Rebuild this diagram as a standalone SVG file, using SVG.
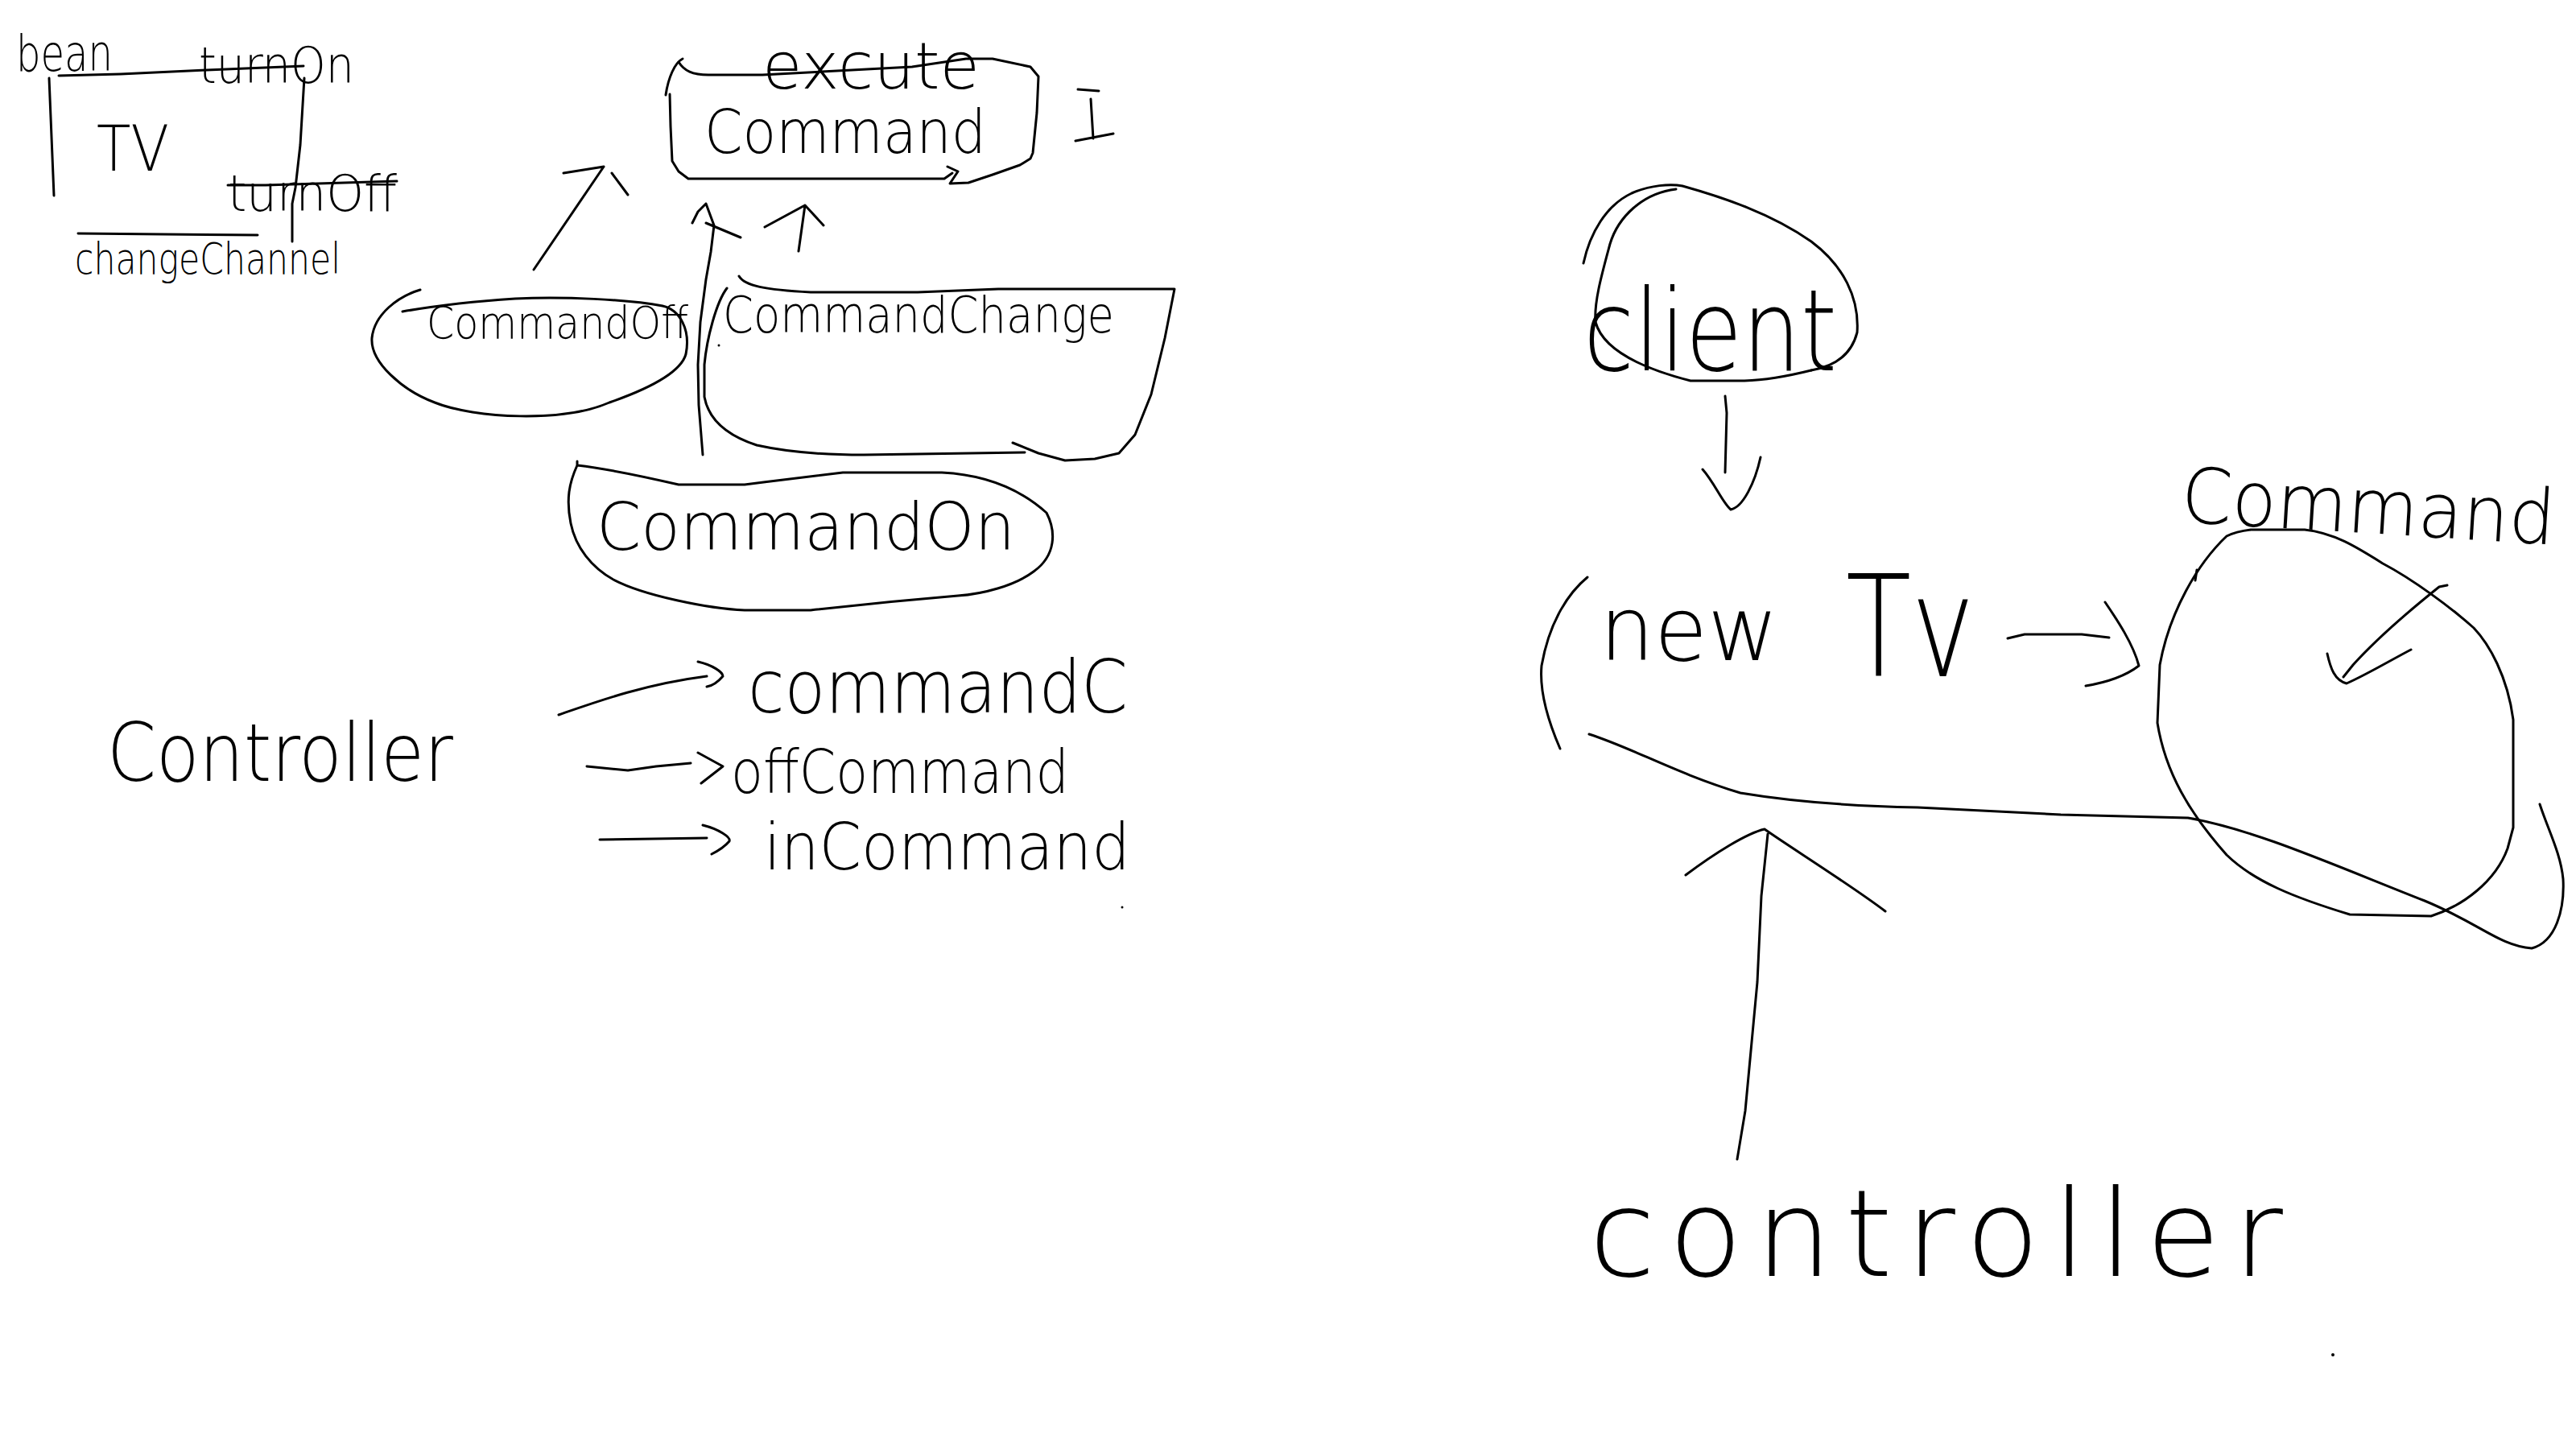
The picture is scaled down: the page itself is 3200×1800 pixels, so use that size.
<svg xmlns="http://www.w3.org/2000/svg" width="3200" height="1800" viewBox="0 0 3200 1800">
<style>
.s{fill:none;stroke:#000;stroke-width:3;stroke-linecap:round;stroke-linejoin:round}
.t{font-family:"DejaVu Sans","Liberation Sans",sans-serif;font-weight:200;fill:#000}
.d{fill:#000}
</style>
<rect width="3200" height="1800" fill="#fff"/>
<g id="tv-class">
<path class="s" d="M73,94 L150,92 L257,87 L377,82"/>
<path class="s" d="M61,97 L67,243"/>
<path class="s" d="M378,97 L373,180 L367,233 L363,253 L363,300"/>
<path class="s" d="M283,230 L330,230 L493,225"/>
<path class="s" d="M97,290 L320,292"/>
<text class="t" x="20" y="88" font-size="62" textLength="120" lengthAdjust="spacingAndGlyphs">bean</text>
<text class="t" x="247" y="103" font-size="62" textLength="193" lengthAdjust="spacingAndGlyphs">turnOn</text>
<text class="t" x="120" y="212" font-size="78" textLength="90" lengthAdjust="spacingAndGlyphs">TV</text>
<text class="t" x="283" y="262" font-size="62" textLength="210" lengthAdjust="spacingAndGlyphs">turnOff</text>
<text class="t" x="93" y="340" font-size="54" textLength="330" lengthAdjust="spacingAndGlyphs">changeChannel</text>
</g>
<g id="command-interface">
<path class="s" d="M848,73 C838,78 830,97 827,118"/>
<path class="s" d="M843,77 C850,88 860,93 880,93 L947,93 L1133,83 L1200,73 L1233,73 L1280,83 L1290,95 L1288,140 L1283,190 L1280,197 L1267,205 L1233,217 L1203,227 L1180,228 L1190,213 L1177,207"/>
<path class="s" d="M1183,215 L1173,222 L855,222 L843,213 L835,200 L833,157 L832,117"/>
<text class="t" x="947" y="110" font-size="80" textLength="270" lengthAdjust="spacingAndGlyphs">excute</text>
<text class="t" x="875" y="190" font-size="74" textLength="350" lengthAdjust="spacingAndGlyphs">Command</text>
<path class="s" d="M1339,111 L1365,113 M1355,123 L1358,172 M1336,175 L1383,166"/>
</g>
<g id="command-off">
<path class="s" d="M522,360 C495,368 465,390 462,420 C460,450 500,485 540,500 C590,520 700,525 757,500 C800,485 845,465 852,440 C858,410 845,385 823,380 C780,372 700,368 640,371 C580,375 540,380 500,387"/>
<text class="t" x="530" y="420" font-size="56" textLength="325" lengthAdjust="spacingAndGlyphs">CommandOff</text>
</g>
<g id="command-change">
<path class="s" d="M918,343 C925,355 950,360 1007,363 L1140,363 L1240,359 L1459,359 L1447,420 L1430,490 L1410,540 L1390,563 L1360,570 L1323,572 L1290,563 L1258,550"/>
<path class="s" d="M903,358 C890,375 878,420 875,453 L875,493 C880,520 900,540 940,553 C980,562 1030,565 1073,565 L1273,562"/>
<text class="t" x="898" y="413" font-size="62" textLength="486" lengthAdjust="spacingAndGlyphs">CommandChange</text>
<circle class="d" cx="893" cy="429" r="1.5"/>
</g>
<g id="command-on">
<path class="s" d="M717,573 L717,578 C760,583 800,592 843,602 L925,602 C980,595 1047,587 1047,587 L1170,587 C1230,590 1270,610 1300,637 C1312,660 1312,690 1284,710 C1260,728 1220,738 1190,740 C1130,745 1060,752 1007,758 L925,758 C880,756 800,740 762,720 C735,705 715,680 709,650 C703,620 707,600 717,578"/>
<text class="t" x="741" y="683" font-size="82" textLength="520" lengthAdjust="spacingAndGlyphs">CommandOn</text>
</g>
<g id="controller-left">
<text class="t" x="133" y="970" font-size="100" textLength="430" lengthAdjust="spacingAndGlyphs">Controller</text>
</g>
<g id="controller-commands">
<text class="t" x="929" y="885" font-size="90" textLength="472" lengthAdjust="spacingAndGlyphs">commandC</text>
<text class="t" x="908" y="985" font-size="75" textLength="420" lengthAdjust="spacingAndGlyphs">offCommand</text>
<text class="t" x="949" y="1080" font-size="80" textLength="455" lengthAdjust="spacingAndGlyphs">inCommand</text>
<circle class="d" cx="1394" cy="1127" r="1.5"/>
</g>
<g id="client">
<path class="s" d="M1967,327 C1975,290 1995,255 2027,240 C2050,230 2075,228 2090,231 C2140,245 2200,265 2250,300 C2290,330 2310,370 2307,413 C2300,440 2280,455 2250,460"/>
<path class="s" d="M2082,235 C2040,240 2010,270 2000,303 C1990,340 1980,375 1982,400 C1990,430 2030,455 2100,473 L2167,473 C2200,472 2230,465 2250,460"/>
<text class="t" x="1967" y="460" font-size="140" textLength="315" lengthAdjust="spacingAndGlyphs">client</text>
</g>
<g id="new-tv">
<path class="s" d="M1972,717 C1950,735 1925,770 1915,827 C1912,860 1925,900 1938,930"/>
<path class="s" d="M1974,912 C2030,930 2080,960 2162,985 C2240,998 2330,1002 2382,1003 L2560,1012 L2718,1016 C2800,1030 2900,1075 3012,1119 C3080,1147 3105,1175 3145,1178 C3175,1170 3186,1130 3184,1092 C3181,1060 3165,1030 3155,999"/>
<text class="t" x="1987" y="820" font-size="110" textLength="222" lengthAdjust="spacingAndGlyphs">new</text>
<text class="t" x="2293" y="840" font-size="175" textLength="160" lengthAdjust="spacingAndGlyphs">Tv</text>
</g>
<g id="command-concrete">
<path class="s" d="M2766,666 C2730,700 2695,760 2683,826 L2680,898 C2690,960 2720,1010 2766,1062 C2800,1095 2850,1115 2919,1136 L3020,1138 C3060,1125 3100,1095 3115,1054 L3122,1028 L3122,894 C3115,840 3092,800 3073,780 C3045,755 2998,720 2960,700 C2928,680 2900,662 2863,658 L2796,658 C2780,660 2770,664 2766,666"/>
<path class="s" d="M2729,708 L2727,721"/>
<text class="t" x="2708" y="648" font-size="95" textLength="465" lengthAdjust="spacingAndGlyphs" transform="rotate(3.5 2708 648)">Command</text>
</g>
<g id="controller-right">
<text class="t" x="1974" y="1585" font-size="150" textLength="862">controller</text>
<circle class="d" cx="2898" cy="1683" r="2"/>
</g>
<g id="connectors">
<path class="s" d="M663,335 L750,207 M700,215 L750,207 M760,215 L780,242"/>
<path class="s" d="M873,565 L868,503 L867,453 L870,400 L877,347 L883,313 L887,280 L877,253 L867,263 L860,277 M877,277 L920,295"/>
<path class="s" d="M992,312 L1000,255 M950,282 L1000,255 L1023,280"/>
<path class="s" d="M694,888 C740,872 800,850 878,840 M867,822 C885,826 898,835 898,840 C892,847 885,852 878,853"/>
<path class="s" d="M729,952 L780,957 L815,952 L858,948 M867,935 L898,952 L871,973"/>
<path class="s" d="M745,1043 L878,1041 M873,1025 C893,1030 908,1040 906,1045 C900,1052 890,1058 884,1061"/>
<path class="s" d="M2143,492 L2145,513 L2143,587 M2115,583 C2130,600 2140,625 2150,633 C2165,630 2180,600 2187,568"/>
<path class="s" d="M2494,793 L2515,788 L2586,788 L2620,792 M2615,748 C2630,770 2650,800 2657,827 C2640,840 2615,848 2591,852"/>
<path class="s" d="M3040,727 L3030,729 C3010,745 2960,785 2923,826 L2911,841 M2891,812 C2895,830 2900,845 2915,849 C2940,838 2970,820 2995,807"/>
<path class="s" d="M2196,1036 L2188,1113 L2183,1220 L2168,1380 L2158,1440 M2094,1087 C2130,1060 2170,1035 2192,1030 C2220,1050 2300,1100 2342,1132"/>
</g>
</svg>
